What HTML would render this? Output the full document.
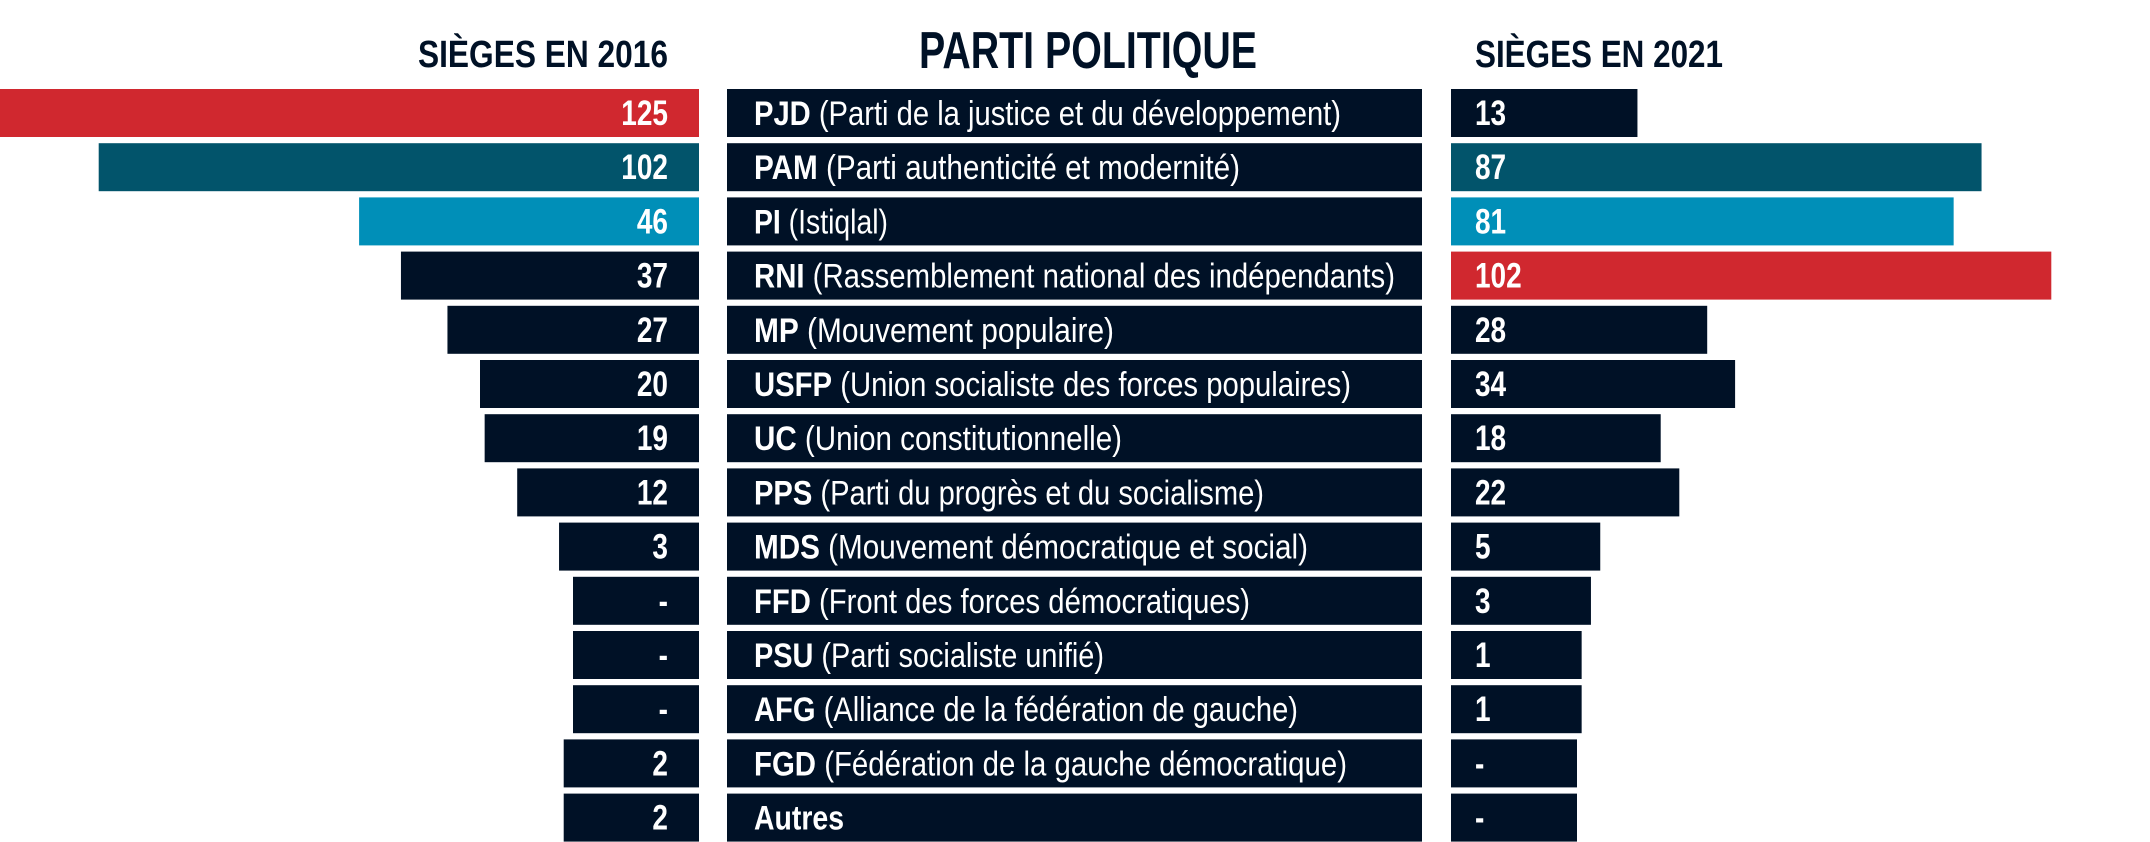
<!DOCTYPE html>
<html><head><meta charset="utf-8"><style>
html,body{margin:0;padding:0;background:#fff;}
svg{display:block;font-family:"Liberation Sans",sans-serif;}
</style></head><body>
<svg id="chart" width="2150" height="842" viewBox="0 0 2150 842" xmlns="http://www.w3.org/2000/svg">
<text x="668" y="67" text-anchor="end" font-size="38" font-weight="bold" fill="#001126" textLength="250" lengthAdjust="spacingAndGlyphs">SIÈGES EN 2016</text>
<text x="919" y="68" font-size="52" font-weight="bold" fill="#001126" textLength="338" lengthAdjust="spacingAndGlyphs">PARTI POLITIQUE</text>
<text x="1475" y="67" font-size="38" font-weight="bold" fill="#001126" textLength="248" lengthAdjust="spacingAndGlyphs">SIÈGES EN 2021</text>
<g id="rows"></g>
</svg>
<script>
const abbrs = ["PJD","PAM","PI","RNI","MP","USFP","UC","PPS","MDS","FFD","PSU","AFG","FGD","Autres"];
const names = ["(Parti de la justice et du développement)","(Parti authenticité et modernité)","(Istiqlal)","(Rassemblement national des indépendants)","(Mouvement populaire)","(Union socialiste des forces populaires)","(Union constitutionnelle)","(Parti du progrès et du socialisme)","(Mouvement démocratique et social)","(Front des forces démocratiques)","(Parti socialiste unifié)","(Alliance de la fédération de gauche)","(Fédération de la gauche démocratique)",""];
const seats2016 = [125,102,46,37,27,20,19,12,3,0,0,0,2,2];
const seats2021 = [13,87,81,102,28,34,18,22,5,3,1,1,0,0];
const labelEnds = [1341,1240,888,1395,1114,1351,1122,1264,1308,1250,1104,1298,1347,844];

const NS="http://www.w3.org/2000/svg";
const g=document.getElementById('rows');
const rowTop=i=>89+i*54.2;
const barH=48;
const len=v=>126+4.65*v;
const SX=0.8;
function colorFor(i){return i===0?'#d0282f':i===1?'#02546b':i===2?'#008fb8':'#001126';}
function colorFor21(i){return i===3?'#d0282f':i===1?'#02546b':i===2?'#008fb8':'#001126';}
function mk(tag,attrs){const e=document.createElementNS(NS,tag);for(const k in attrs)e.setAttribute(k,attrs[k]);return e;}
abbrs.forEach((a,i)=>{
  const y=rowTop(i);
  const l=len(seats2016[i]);
  const b1=mk('rect',{x:699-l,y:y,width:l,height:barH,fill:colorFor(i)});
  
  
  g.appendChild(b1);
  const t1=mk('text',{x:668/SX,y:y+36,'text-anchor':'end','font-size':35,'font-weight':'bold',fill:'#fff',transform:'scale('+SX+',1)'});
  
  
  t1.textContent=seats2016[i]===0?'-':seats2016[i];
  g.appendChild(t1);
  const box=mk('rect',{x:727,y:y,width:695,height:barH,fill:'#001126'});
  
  
  g.appendChild(box);
  const t=mk('text',{x:754,y:y+36,'font-size':34,fill:'#fff',textLength:labelEnds[i]-754,lengthAdjust:'spacingAndGlyphs'});
  
  
  const s1=mk('tspan',{'font-weight':'bold'});s1.textContent=a;t.appendChild(s1);
  if(names[i]){const s2=mk('tspan',{});s2.textContent=' '+names[i];t.appendChild(s2);}
  g.appendChild(t);
  const l2=len(seats2021[i]);
  const b2=mk('rect',{x:1451,y:y,width:l2,height:barH,fill:colorFor21(i)});
  
  
  g.appendChild(b2);
  const t2=mk('text',{x:1475/SX,y:y+36,'font-size':35,'font-weight':'bold',fill:'#fff',transform:'scale('+SX+',1)'});
  
  
  t2.textContent=seats2021[i]===0?'-':seats2021[i];
  g.appendChild(t2);
});
</script>
</body></html>
